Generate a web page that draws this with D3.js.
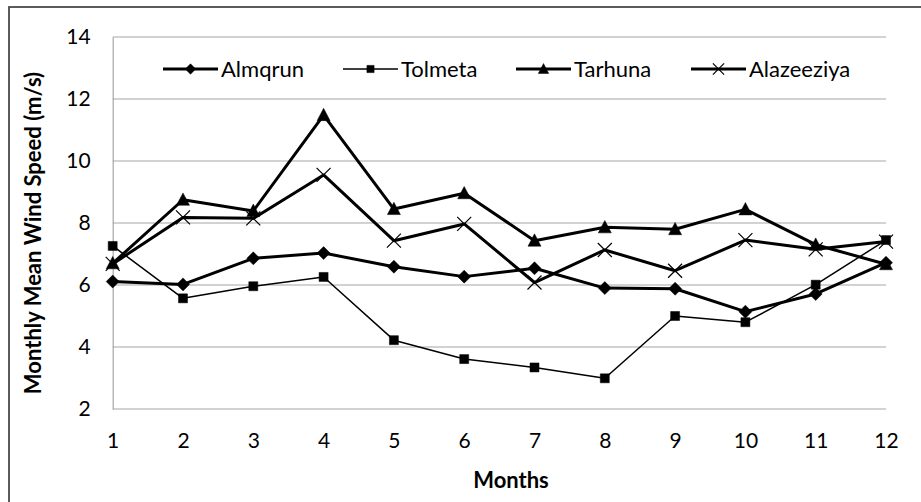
<!DOCTYPE html>
<html>
<head>
<meta charset="utf-8">
<script src="https://cdn.jsdelivr.net/npm/d3@7"></script>
<style>
  body { margin: 0; background: #fff; }
  svg { display: block; font-family: Lato, "Open Sans", sans-serif; }
</style>
</head>
<body>
<div id="chart"></div>
<script>
// monthly mean wind speed, four stations
const months = [1, 2, 3, 4, 5, 6, 7, 8, 9, 10, 11, 12];
const almqrun    = [6.11, 6.02, 6.86, 7.03, 6.59, 6.27, 6.54, 5.90, 5.88, 5.14, 5.71, 6.72];
const tolmeta    = [7.26, 5.57, 5.96, 6.26, 4.22, 3.61, 3.34, 2.99, 5.00, 4.80, 6.01, 7.45];
const tarhuna    = [6.70, 8.75, 8.39, 11.48, 8.45, 8.96, 7.43, 7.86, 7.80, 8.44, 7.30, 6.67];
const alazeeziya = [6.68, 8.18, 8.15, 9.55, 7.43, 7.97, 6.08, 7.13, 6.46, 7.45, 7.15, 7.40];
const seriesNames = ['Almqrun', 'Tolmeta', 'Tarhuna', 'Alazeeziya'];
const yTicks = [2, 4, 6, 8, 10, 12, 14];

const series = [
  { name: seriesNames[0], values: almqrun,    marker: 'diamond',  width: 3 },
  { name: seriesNames[1], values: tolmeta,    marker: 'square',   width: 1.5 },
  { name: seriesNames[2], values: tarhuna,    marker: 'triangle', width: 3 },
  { name: seriesNames[3], values: alazeeziya, marker: 'cross',    width: 3 }
];

const W = 921, H = 502;
const plot = { left: 112.7, right: 886, top: 37, bottom: 409 };

const svg = d3.select('#chart').append('svg')
  .attr('width', W).attr('height', H);

// outer frame (right/bottom edges run off the picture)
svg.append('rect')
  .attr('x', 9).attr('y', 7)
  .attr('width', 940).attr('height', 540)
  .attr('fill', 'none')
  .attr('stroke', '#4a4a4a')
  .attr('stroke-width', 1.8);

const x = d3.scaleLinear().domain([1, 12]).range([plot.left, plot.right]);
const y = d3.scaleLinear().domain([2, 14]).range([plot.bottom, plot.top]);

// gridlines
svg.append('g')
  .selectAll('line')
  .data(yTicks)
  .enter().append('line')
  .attr('x1', plot.left).attr('x2', plot.right)
  .attr('y1', d => y(d)).attr('y2', d => y(d))
  .attr('stroke', '#a6a6a6')
  .attr('stroke-width', 1.2);

// y axis
const yAxis = svg.append('g')
  .attr('transform', `translate(${plot.left},0)`)
  .call(d3.axisLeft(y).tickValues(yTicks).tickSize(0).tickPadding(22));
yAxis.select('.domain').attr('stroke', '#a6a6a6').attr('stroke-width', 1.2);
yAxis.selectAll('text')
  .attr('font-family', 'Lato, sans-serif')
  .attr('font-size', 21)
  .attr('fill', '#000');

// x axis
const xAxis = svg.append('g')
  .attr('transform', `translate(0,${plot.bottom})`)
  .call(d3.axisBottom(x).tickValues(months).tickFormat(d3.format('d')).tickSize(0));
xAxis.select('.domain').remove();
xAxis.selectAll('text')
  .attr('y', 32)
  .attr('dy', '0.35em')
  .attr('font-family', 'Lato, sans-serif')
  .attr('font-size', 21)
  .attr('fill', '#000');

// axis titles
svg.append('text')
  .attr('x', 511).attr('y', 488)
  .attr('text-anchor', 'middle')
  .attr('font-weight', 'bold')
  .attr('font-size', 22)
  .text('Months');

svg.append('text')
  .attr('transform', 'translate(32,233) rotate(-90)')
  .attr('text-anchor', 'middle')
  .attr('dominant-baseline', 'central')
  .attr('font-weight', 'bold')
  .attr('font-size', 22)
  .text('Monthly Mean Wind Speed (m/s)');

// marker shapes, centred on 0,0
function markerPath(type, s) {
  const h = s / 2;
  if (type === 'diamond') return `M0,${-h}L${h},0L0,${h}L${-h},0Z`;
  if (type === 'square') return `M${-h},${-h}H${h}V${h}H${-h}Z`;
  if (type === 'triangle') return `M0,${-h * 1.05}L${h},${h * 0.85}L${-h},${h * 0.85}Z`;
  return `M${-h},${-h}L${h},${h}M${-h},${h}L${h},${-h}`;
}
const markerSize = { diamond: 13, square: 9, triangle: 13, cross: 14 };

function drawMarker(sel, type, s) {
  sel.attr('d', markerPath(type, s))
    .attr('fill', type === 'cross' ? 'none' : '#000')
    .attr('stroke', '#000')
    .attr('stroke-width', type === 'cross' ? 1.2 : 0.5);
}

const line = d3.line()
  .x((d, i) => x(months[i]))
  .y(d => y(d));

series.forEach(s => {
  const g = svg.append('g');
  g.append('path')
    .datum(s.values)
    .attr('d', line)
    .attr('fill', 'none')
    .attr('stroke', '#000')
    .attr('stroke-width', s.width)
    .attr('stroke-linejoin', 'round');
  g.selectAll('path.mk')
    .data(s.values)
    .enter().append('path')
    .attr('class', 'mk')
    .attr('transform', (d, i) => `translate(${x(months[i])},${y(d)})`)
    .call(drawMarker, s.marker, markerSize[s.marker]);
});

// legend
const legendX = [163, 343, 516, 691];
const legendY = 69;
const legend = svg.append('g');
series.forEach((s, i) => {
  const g = legend.append('g').attr('transform', `translate(${legendX[i]},${legendY})`);
  g.append('line')
    .attr('x1', 0).attr('x2', 55)
    .attr('stroke', '#000')
    .attr('stroke-width', s.width);
  g.append('path')
    .attr('transform', 'translate(27.5,0)')
    .call(drawMarker, s.marker, markerSize[s.marker] * 0.8);
  g.append('text')
    .attr('x', 58).attr('y', 7.5)
    .attr('font-size', 22)
    .text(s.name);
});
</script>
</body>
</html>
